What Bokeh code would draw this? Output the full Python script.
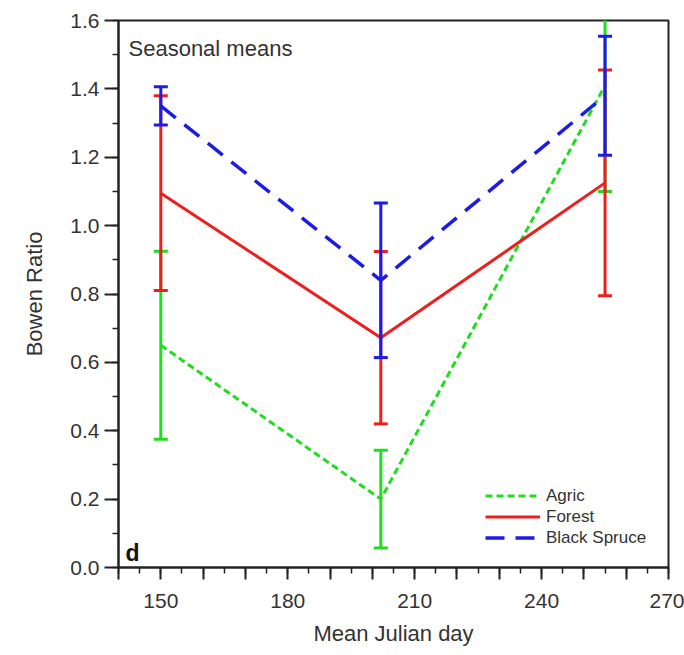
from bokeh.plotting import figure
from bokeh.models import (Range1d, FixedTicker, PrintfTickFormatter, Legend,
                          LegendItem, Label)
from bokeh.embed import file_html
from bokeh.resources import INLINE

# ---- data ----
days = [150, 202, 255]
agric = [0.65, 0.20, 1.41]
agric_err = [0.275, 0.143, 0.31]
forest = [1.095, 0.672, 1.125]
forest_err = [0.285, 0.252, 0.33]
spruce = [1.35, 0.84, 1.38]
spruce_err = [0.056, 0.226, 0.174]

series_names = ["Agric", "Forest", "Black Spruce"]
x_major = list(range(140, 271, 10))
x_minor = list(range(140, 271, 5))
x_labelled = [150, 180, 210, 240, 270]
y_major = [0.0, 0.2, 0.4, 0.6, 0.8, 1.0, 1.2, 1.4, 1.6]
y_minor = [i / 10 for i in range(0, 17)]

FONT = "Liberation Sans"
TXT = "#333333"
AX = "#222222"

p = figure(width=684, height=655, output_backend="svg", toolbar_location=None,
           x_range=Range1d(140, 270), y_range=Range1d(0, 1.6),
           min_border_left=118, min_border_right=16, min_border_top=20,
           min_border_bottom=88)
p.grid.visible = False
p.outline_line_color = AX
p.outline_line_width = 2
p.background_fill_color = "white"
p.border_fill_color = "white"

# axes
p.xaxis.ticker = FixedTicker(ticks=x_major, minor_ticks=x_minor)
p.xaxis.major_label_overrides = {t: (str(t) if t in x_labelled else "") for t in x_major}
p.yaxis.ticker = FixedTicker(ticks=y_major, minor_ticks=y_minor)
p.yaxis.formatter = PrintfTickFormatter(format="%.1f")
p.xaxis.axis_label = "Mean Julian day"
p.yaxis.axis_label = "Bowen Ratio"
for ax in (p.xaxis, p.yaxis):
    ax.axis_line_color = AX
    ax.axis_line_width = 2
    ax.major_tick_line_color = AX
    ax.minor_tick_line_color = AX
    ax.major_tick_line_width = 2
    ax.minor_tick_line_width = 1.5
    ax.major_tick_in = 0
    ax.minor_tick_in = 0
    ax.major_label_text_font = FONT
    ax.major_label_text_font_size = "21px"
    ax.major_label_text_color = TXT
    ax.axis_label_text_font = FONT
    ax.axis_label_text_font_size = "22px"
    ax.axis_label_text_font_style = "normal"
    ax.axis_label_text_color = TXT
p.xaxis.major_tick_out = 12
p.xaxis.minor_tick_out = 6
p.yaxis.major_tick_out = 14
p.yaxis.minor_tick_out = 6
p.xaxis.major_label_standoff = 14
p.yaxis.major_label_standoff = 5
p.xaxis.axis_label_standoff = 10
p.yaxis.axis_label_standoff = 20

colors = ["#22dc22", "#ee1e1e", "#1c1ce6"]
dashes = ["7 4", "solid", "19 11"]
widths = [3, 3, 3.5]
items = []
for name, mean, err, col, dash, lw in zip(series_names, [agric, forest, spruce],
                                          [agric_err, forest_err, spruce_err],
                                          colors, dashes, widths):
    lo = [m - e for m, e in zip(mean, err)]
    hi = [m + e for m, e in zip(mean, err)]
    p.segment(x0=days, y0=lo, x1=days, y1=hi, line_color=col, line_width=3)
    p.scatter(x=days, y=lo, marker="dash", size=14, line_color=col, line_width=3)
    p.scatter(x=days, y=hi, marker="dash", size=14, line_color=col, line_width=3)
    ln = p.line(days, mean, line_color=col, line_width=lw, line_dash=dash)
    items.append(LegendItem(label=name, renderers=[ln]))

legend = Legend(items=items, location=(367, 19), glyph_width=55, glyph_height=21,
                label_height=21, spacing=0, padding=0, margin=0, label_standoff=6,
                border_line_alpha=0, background_fill_alpha=0,
                label_text_font=FONT, label_text_font_size="17px",
                label_text_color=TXT)
p.add_layout(legend, "center")

p.add_layout(Label(x=10, y=519, x_units="screen", y_units="screen",
                   text="Seasonal means", text_font=FONT, text_font_size="22px",
                   text_color=TXT, text_baseline="alphabetic"))
p.add_layout(Label(x=7, y=15, x_units="screen", y_units="screen",
                   text="d", text_font=FONT, text_font_size="23px",
                   text_font_style="bold", text_color="#111111",
                   text_baseline="alphabetic"))

open("out.html", "w").write(file_html(p, INLINE))
